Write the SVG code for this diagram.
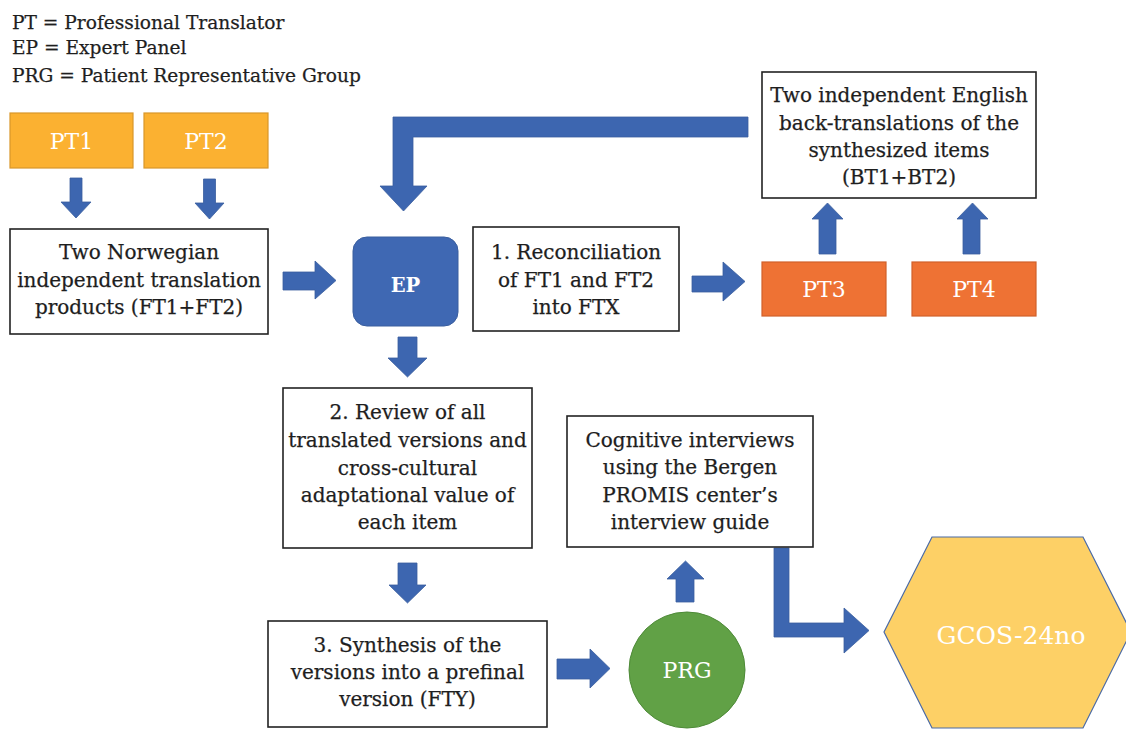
<svg xmlns="http://www.w3.org/2000/svg" width="1126" height="731" viewBox="0 0 1126 731">
<style>
  text { font-family: "DejaVu Serif", "Liberation Serif", serif; }
  .legend { font-size: 18.6px; fill: #1e1e1e; stroke: #1e1e1e; stroke-width: 0.25; }
  .box { fill: #fff; stroke: #222; stroke-width: 1.6; }
  .bt { font-size: 20px; fill: #1e1e1e; stroke: #1e1e1e; stroke-width: 0.25; text-anchor: middle; }
  .wt { fill: #fff; text-anchor: middle; }
  .pt12 { fill: #FBB131; stroke: #D9972A; stroke-width: 1.2; }
  .pt34 { fill: #EE7234; stroke: #D1612B; stroke-width: 1.2; }
  .arrow { fill: #3D66B0; stroke: #3A5E9E; stroke-width: 0.8; }
</style>
<rect width="1126" height="731" fill="#fff"/>

<g id="legend">
  <text class="legend" x="12" y="29">PT = Professional Translator</text>
  <text class="legend" x="12" y="54">EP = Expert Panel</text>
  <text class="legend" x="12" y="82">PRG = Patient Representative Group</text>
</g>

<g id="connectors">
  <polygon class="arrow" points="70,178 82,178 82,202 91,202 76,218 61,202 70,202"/>
  <polygon class="arrow" points="203.5,179 215.5,179 215.5,203 224,203 209.5,219 195,203 203.5,203"/>
  <polygon class="arrow" points="283,272 315,272 315,261 336,280.5 315,299 315,290 283,290"/>
  <polygon class="arrow" points="748,117 393,117 393,186 380,186 403.5,211 427,186 413,186 413,137 748,137"/>
  <polygon class="arrow" points="692,276 723,276 723,262 745,281.5 723,301 723,292 692,292"/>
  <polygon class="arrow" points="819,254 819,219 812,219 827.5,203 843,219 836,219 836,254"/>
  <polygon class="arrow" points="963,254 963,219 957,219 972.5,203 988,219 980,219 980,254"/>
  <polygon class="arrow" points="398,337 417,337 417,358 427,358 407.5,377 388,358 398,358"/>
  <polygon class="arrow" points="398,563 417,563 417,585 426,585 407.5,603 389,585 398,585"/>
  <polygon class="arrow" points="557,659 590,659 590,649 610,668.5 590,688 590,679 557,679"/>
  <polygon class="arrow" points="676,602 676,579 667,579 685.5,561 704,579 694,579 694,602"/>
  <polygon class="arrow" points="774,548 789,548 789,623 844,623 844,608 869,630.5 844,653 844,637 774,637"/>
</g>

<g id="pt1">
  <rect class="pt12" x="10" y="113" width="123" height="55"/>
  <text class="wt" x="71.5" y="149" font-size="22">PT1</text>
</g>
<g id="pt2">
  <rect class="pt12" x="144" y="113" width="124" height="55"/>
  <text class="wt" x="206" y="149" font-size="22">PT2</text>
</g>

<g id="ft12">
  <rect class="box" x="10" y="229" width="258" height="105"/>
  <text class="bt" x="139" y="259">Two Norwegian</text>
  <text class="bt" x="139" y="287">independent translation</text>
  <text class="bt" x="139" y="314">products (FT1+FT2)</text>
</g>

<g id="ep">
  <rect x="353" y="237" width="105" height="89" rx="14" fill="#3F68B3" stroke="#3A5E9E" stroke-width="1"/>
  <text class="wt" x="405.5" y="292" font-size="19.5" font-weight="bold">EP</text>
</g>

<g id="step1">
  <rect class="box" x="473" y="227" width="206" height="104"/>
  <text class="bt" x="576" y="259">1. Reconciliation</text>
  <text class="bt" x="576" y="287">of FT1 and FT2</text>
  <text class="bt" x="576" y="314">into FTX</text>
</g>

<g id="backtrans">
  <rect class="box" x="762" y="72" width="274" height="126"/>
  <text class="bt" x="899" y="102">Two independent English</text>
  <text class="bt" x="899" y="130">back-translations of the</text>
  <text class="bt" x="899" y="157">synthesized items</text>
  <text class="bt" x="899" y="184">(BT1+BT2)</text>
</g>

<g id="pt3">
  <rect class="pt34" x="762" y="262" width="124" height="54"/>
  <text class="wt" x="824" y="297" font-size="22">PT3</text>
</g>
<g id="pt4">
  <rect class="pt34" x="912" y="262" width="124" height="54"/>
  <text class="wt" x="974" y="297" font-size="22">PT4</text>
</g>

<g id="step2">
  <rect class="box" x="283" y="388" width="249" height="160"/>
  <text class="bt" x="407.5" y="419">2. Review of all</text>
  <text class="bt" x="407.5" y="447">translated versions and</text>
  <text class="bt" x="407.5" y="475">cross-cultural</text>
  <text class="bt" x="407.5" y="502">adaptational value of</text>
  <text class="bt" x="407.5" y="529">each item</text>
</g>

<g id="step3">
  <rect class="box" x="268" y="621" width="279" height="106"/>
  <text class="bt" x="407.5" y="652">3. Synthesis of the</text>
  <text class="bt" x="407.5" y="679">versions into a prefinal</text>
  <text class="bt" x="407.5" y="706">version (FTY)</text>
</g>

<g id="prg">
  <circle cx="687" cy="670" r="58" fill="#61A146" stroke="#4E8A38" stroke-width="1"/>
  <text class="wt" x="687" y="678" font-size="22">PRG</text>
</g>

<g id="cognitive">
  <rect class="box" x="567" y="416" width="246" height="131"/>
  <text class="bt" x="690" y="447">Cognitive interviews</text>
  <text class="bt" x="690" y="474">using the Bergen</text>
  <text class="bt" x="690" y="502">PROMIS center’s</text>
  <text class="bt" x="690" y="529">interview guide</text>
</g>

<g id="gcos">
  <polygon points="884,632 932,537 1083,537 1131,632 1083,728 932,728" fill="#FDD066" stroke="#4A6AA6" stroke-width="1.2"/>
  <text class="wt" x="1011" y="644" font-size="25">GCOS-24no</text>
</g>
</svg>
